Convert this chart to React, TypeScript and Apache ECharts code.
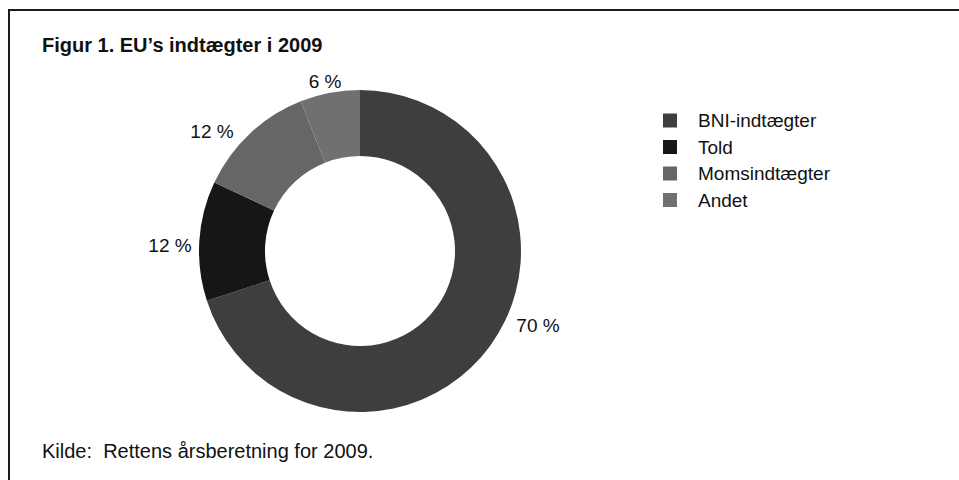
import React, { useEffect, useRef } from "react";
import * as echarts from "echarts";

const titleText = "Figur 1. EU’s indtægter i 2009";
const sourceText = "Kilde:  Rettens årsberetning for 2009.";
const categories = ["BNI-indtægter", "Told", "Momsindtægter", "Andet"];
const values = [70, 12, 12, 6];
const colors = ["#3e3e3e", "#161616", "#666666", "#707070"];

// label anchor positions (px) for each slice label
const labelPos: [number, number][] = [
  [538, 325],
  [170, 245],
  [212, 131],
  [325, 81],
];

const FONT = "'Liberation Sans', Arial, sans-serif";

export default function App() {
  const ref = useRef<HTMLDivElement>(null);
  useEffect(() => {
    if (!ref.current) return;
    const chart = echarts.init(ref.current, undefined, { renderer: "svg" });
    chart.setOption({
      animation: false,
      backgroundColor: "#ffffff",
      color: colors,
      legend: {
        orient: "vertical",
        left: 658,
        top: 106,
        icon: "rect",
        itemWidth: 14,
        itemHeight: 14,
        itemGap: 7.5,
        selectedMode: false,
        data: categories,
        textStyle: {
          fontFamily: FONT,
          fontSize: 19,
          lineHeight: 19,
          color: "#111111",
          padding: [0, 0, 0, 16],
        },
      },
      graphic: [
        {
          type: "line",
          shape: { x1: 8, y1: 10, x2: 959, y2: 10 },
          style: { stroke: "#1a1a1a", lineWidth: 2 },
        },
        {
          type: "line",
          shape: { x1: 9, y1: 9, x2: 9, y2: 480 },
          style: { stroke: "#1a1a1a", lineWidth: 2 },
        },
        {
          type: "text",
          x: 42,
          y: 45,
          style: {
            text: titleText,
            fontFamily: FONT,
            fontSize: 20,
            fontWeight: "bold",
            fill: "#111111",
            verticalAlign: "middle",
          },
        },
        {
          type: "text",
          x: 42,
          y: 451,
          style: {
            text: sourceText,
            fontFamily: FONT,
            fontSize: 20,
            fill: "#111111",
            verticalAlign: "middle",
          },
        },
      ],
      series: [
        {
          type: "pie",
          center: [360, 251],
          radius: [95, 161],
          startAngle: 90,
          clockwise: true,
          avoidLabelOverlap: false,
          silent: true,
          data: categories.map((name, i) => ({ name, value: values[i] })),
          label: {
            show: true,
            position: "outside",
            formatter: "{c} %",
            fontFamily: FONT,
            fontSize: 19,
            color: "#111111",
          },
          labelLine: { show: false },
          labelLayout: (params: any) => {
            const p = labelPos[params.dataIndex];
            return { x: p[0], y: p[1], align: "center", verticalAlign: "middle" };
          },
          itemStyle: { borderWidth: 0 },
          emphasis: { disabled: true },
        },
      ],
    });
    return () => chart.dispose();
  }, []);
  return (
    <div
      ref={ref}
      style={{ position: "absolute", left: 0, top: 0, width: 959, height: 480 }}
    />
  );
}
